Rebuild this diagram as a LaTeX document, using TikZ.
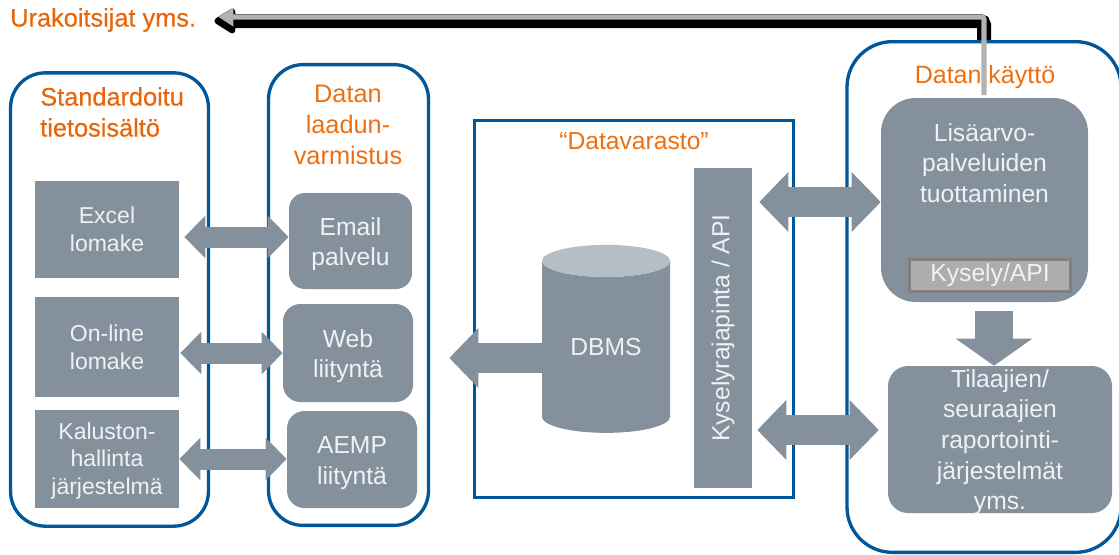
\documentclass[tikz,border=0pt]{standalone}
\usepackage{fontspec}
\setmainfont{Liberation Sans}
\newfontfamily\heavyfont[FakeBold=0.4]{Liberation Sans}
\usetikzlibrary{arrows.meta,shapes.geometric}

\definecolor{slategrey}{HTML}{84919C}
\definecolor{slatelight}{HTML}{B4BEC6}
\definecolor{laneblue}{HTML}{00589A}
\definecolor{titleorange}{HTML}{EE6F10}
\definecolor{heavyorange}{HTML}{E8660A}
\definecolor{paletext}{HTML}{EFF2F4}

\tikzset{
    lane/.style={draw=laneblue, line width=2.5pt, rounded corners=#1, inner sep=0pt},
    lanetitle/.style={text=titleorange, inner sep=0pt, align=center, font=\fontsize{18.5pt}{23.25pt}\selectfont},
    heavytitle/.style={text=heavyorange, inner sep=0pt, font=\heavyfont\fontsize{19pt}{23.25pt}\selectfont},
    squarebox/.style={fill=slategrey, text=paletext, inner sep=0pt, align=center, font=\fontsize{17.25pt}{20.75pt}\selectfont},
    softbox/.style={fill=slategrey, rounded corners=#1, inner sep=0pt},
    boxtext/.style={text=paletext, inner sep=0pt, align=center, font=\fontsize{18.5pt}{23pt}\selectfont},
    flatarrow/.style={draw=slategrey, line width=15.75pt, {Triangle[length=15.75pt,width=30.75pt]}-{Triangle[length=15.75pt,width=30.75pt]}},
    bigarrow/.style={draw=slategrey, line width=22.5pt, {Triangle[length=21.75pt,width=43.5pt]}-{Triangle[length=21.75pt,width=43.5pt]}},
    onearrow/.style={draw=slategrey, line width=22.5pt, -{Triangle[length=21.75pt,width=43.5pt]}},
    downarrow/.style={draw=slategrey, line width=28.5pt, -{Triangle[length=20.25pt,width=56.25pt]}},
    shadowline/.style={draw=black, line width=10.5pt, rounded corners=3pt, shorten >=13.5pt, -{Triangle[length=18pt,width=21pt,round]}},
    greyline/.style={draw=black!30, line width=4pt, rounded corners=2pt, shorten >=16.5pt, shorten <=2pt, -{Triangle[length=11.25pt,width=13.5pt]}},
}

\begin{document}
\begin{tikzpicture}[x=0.75pt, y=-0.75pt]

    \useasboundingbox (0, 0) rectangle (1119, 554);

    % shadow of the return line goes behind the lanes
    \node[heavytitle, anchor=west] (urakat) at (10, 20) {Urakoitsijat yms.};
    \coordinate (shadowbend) at (984, 21);
    \coordinate (shadowend) at (984, 42);
    \draw[shadowline] (shadowend) -- (shadowbend) -- (shadowbend -| urakat.east);

    % lanes
    \node[lane=26pt, minimum width=148.4pt, minimum height=340pt] (standard) at (109.5, 299.5) {};
    \node[lane=26pt, minimum width=120pt, minimum height=345.6pt] (laatu) at (348.5, 295) {};
    \node[lane=0pt, minimum width=239pt, minimum height=283pt] (varasto) at (634, 309) {};
    \node[lane=34pt, minimum width=205.5pt, minimum height=383pt] (kaytto) at (984, 297) {};

    \node[heavytitle, align=left, anchor=west] (standardtitle) at (40, 112) {Standardoitu\\tietosisältö};
    \node[lanetitle, font=\fontsize{19pt}{23.25pt}\selectfont] (laatutitle) at (348, 125) {Datan\\laadun-\\varmistus};
    \node[lanetitle] (varastotitle) at (634, 141) {“Datavarasto”};
    \node[lanetitle, font=\fontsize{18.75pt}{23.25pt}\selectfont] (kayttotitle) at (985, 77) {Datan käyttö};

    % left column
    \node[squarebox, minimum width=108pt, minimum height=72.75pt] (excel) at (107, 229.5) {Excel\\lomake};
    \node[squarebox, minimum width=108pt, minimum height=75pt] (online) at (107, 347) {On-line\\lomake};
    \node[softbox=0pt, minimum width=108pt, minimum height=73.5pt] (kalusto) at (107, 459) {};
    \node[squarebox, fill=none] (kalustotext) at (107, 461) {Kaluston-\\hallinta\\järjestelmä};

    \node[softbox=12pt, minimum width=92.25pt, minimum height=72pt] (email) at (350.5, 241) {};
    \node[boxtext] (emailtext) at (350.5, 244) {Email\\palvelu};
    \node[softbox=13pt, minimum width=97.5pt, minimum height=73.5pt] (web) at (348, 353) {};
    \node[boxtext] (webtext) at (348, 356) {Web\\liityntä};
    \node[softbox=13pt, minimum width=97.5pt, minimum height=72.75pt] (aemp) at (352, 459.5) {};
    \node[boxtext] (aemptext) at (352, 463) {AEMP\\liityntä};

    % store
    \node[cylinder, shape border rotate=90, aspect=0.45, cylinder uses custom fill,
        cylinder body fill=slategrey, cylinder end fill=slatelight, text=paletext, inner sep=0pt,
        minimum width=96pt, minimum height=141pt, font=\fontsize{18.5pt}{23.25pt}\selectfont] (dbms) at (606, 347) {DBMS};
    \node[softbox=0pt, rotate=90, minimum width=240pt, minimum height=43.5pt, boxtext] (rajapinta) at (723, 328) {Kyselyrajapinta / API};

    % right column
    \node[softbox=26pt, minimum width=155.25pt, minimum height=153pt] (lisa) at (984.5, 200) {};
    \node[boxtext] (lisatext) at (984.5, 163) {Lisäarvo-\\palveluiden\\tuottaminen};
    \node[draw=black!50, line width=2.25pt, fill=black!32, boxtext, minimum width=120.75pt, minimum height=24pt] (kysely) at (990, 275.5) {Kysely/API};
    \node[softbox=15pt, minimum width=168pt, minimum height=110.25pt] (tilaajat) at (1000, 439.5) {};
    \node[boxtext] (tilaajattext) at (1000, 442) {Tilaajien/\\seuraajien\\raportointi-\\järjestelmät\\yms.};

    % connectors
    \coordinate (rowemail) at (0, 237);
    \coordinate (rowweb) at (0, 353);
    \coordinate (rowaemp) at (0, 459);
    \coordinate (rowdbms) at (0, 358);
    \coordinate (rowlisa) at (0, 202);
    \coordinate (rowtilaajat) at (0, 430);
    \coordinate (coldown) at (994, 0);

    \draw[flatarrow, shorten <=3.75pt] (excel.east |- rowemail) -- (email.west |- rowemail);
    \draw[flatarrow, shorten <=0.75pt] (online.east |- rowweb) -- (web.west |- rowweb);
    \draw[flatarrow] (kalusto.east |- rowaemp) -- (aemp.west |- rowaemp);
    \draw[onearrow, shorten >=27pt] (dbms.west |- rowdbms) -- (web.east |- rowdbms);
    \draw[bigarrow, shorten <=5.25pt] (rajapinta.south |- rowlisa) -- (lisa.west |- rowlisa);
    \draw[bigarrow, shorten <=3.75pt, shorten >=6.75pt] (rajapinta.south |- rowtilaajat) -- (tilaajat.west |- rowtilaajat);
    \draw[downarrow, shorten <=6.75pt] (coldown |- lisa.south) -- (coldown |- tilaajat.north);

    % return line on top of everything
    \coordinate (greybend) at (984, 17);
    \draw[greyline] (greybend |- lisa.north) -- (greybend) -- (greybend -| urakat.east);

\end{tikzpicture}
\end{document}
